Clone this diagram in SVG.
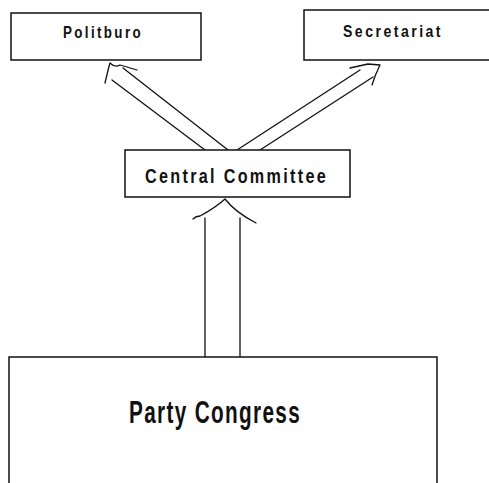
<svg xmlns="http://www.w3.org/2000/svg" width="489" height="483" viewBox="0 0 489 483">
<style>
.box{fill:#fff;stroke:#111;stroke-width:1.5}
.lbl{font-family:"Liberation Sans",Arial,sans-serif;font-weight:bold;fill:#111;text-anchor:start}
.sp{letter-spacing:3px}
.ln{fill:none;stroke:#111;stroke-width:1.3;stroke-linecap:round;stroke-linejoin:round}
</style>
<rect width="489" height="483" fill="#fff"/>
<g id="connectors">
<path class="ln" d="M205,150 L112,80 M228,150 L123,68"/>
<path class="ln" d="M105,83 Q108,70 110,63 Q115,68 120,65 L137,70"/>
<path class="ln" d="M237,150 L360,70 M260,150 L373,77"/>
<path class="ln" d="M350,68 L368,64 L380,65 Q375,75 372,85"/>
<path class="ln" d="M205,357 L205,218 M240,357 L240,218"/>
<path class="ln" d="M193,219 Q196,216 200,216 Q215,208 225,199 Q235,212 256,223"/>
</g>
<g id="politburo">
<rect class="box" x="11" y="13" width="190" height="47"/>
<text class="lbl sp" x="63" y="38" font-size="17" textLength="80" lengthAdjust="spacingAndGlyphs">Politburo</text>
</g>
<g id="secretariat">
<rect class="box" x="304" y="10" width="190" height="50"/>
<text class="lbl sp" x="343" y="37" font-size="17" textLength="100" lengthAdjust="spacingAndGlyphs">Secretariat</text>
</g>
<g id="central-committee">
<rect class="box" x="125" y="150" width="225" height="47"/>
<text class="lbl sp" x="145" y="183" font-size="21" textLength="183" lengthAdjust="spacingAndGlyphs">Central Committee</text>
</g>
<g id="party-congress">
<rect class="box" x="9" y="357" width="428" height="140"/>
<text class="lbl" x="129" y="423" font-size="31" letter-spacing="2" textLength="172" lengthAdjust="spacingAndGlyphs">Party Congress</text>
</g>
</svg>
